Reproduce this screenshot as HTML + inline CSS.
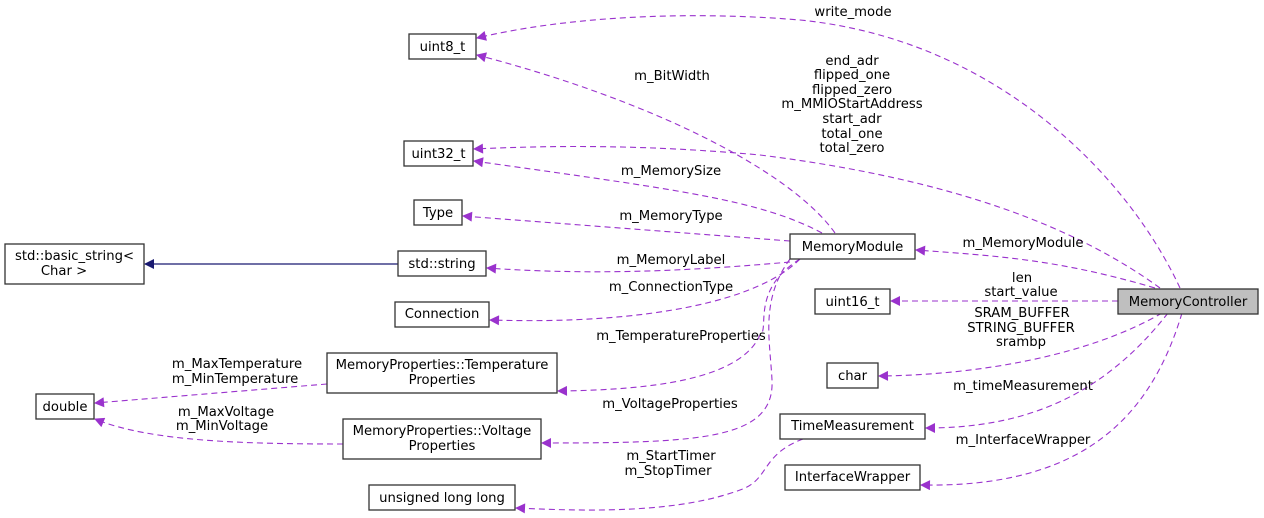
<!DOCTYPE html>
<html><head><meta charset="utf-8"><style>
html,body{margin:0;padding:0;background:#fff;}
svg{display:block;}
text{font-family:"DejaVu Sans","Liberation Sans",sans-serif;font-size:13.2px;fill:#000;}
.b{fill:#fff;stroke:#333;stroke-width:1.3;}
.e{fill:none;stroke:#9a32cd;stroke-width:1.1;stroke-dasharray:6,4;}
</style></head><body>
<svg width="1264" height="518" viewBox="0 0 1264 518" xmlns="http://www.w3.org/2000/svg">
<defs>
<marker id="a" viewBox="0 0 10 10" refX="9" refY="5" markerWidth="14" markerHeight="10" markerUnits="userSpaceOnUse" orient="auto"><path d="M0,0 L10,5 L0,10 z" fill="#9a32cd"/></marker>
<marker id="n" viewBox="0 0 10 10" refX="9" refY="5" markerWidth="14" markerHeight="10" markerUnits="userSpaceOnUse" orient="auto"><path d="M0,0 L10,5 L0,10 z" fill="#191970"/></marker>
</defs>
<path class="e" marker-end="url(#a)" d="M1180,288 C1130,180 1000,40 800,20 C680,10 560,18 477,38"/>
<path class="e" marker-end="url(#a)" d="M835,233 C790,170 650,100 477,55"/>
<path class="e" marker-end="url(#a)" d="M1160,288 C1080,230 960,180 760,155 C650,145 560,145 474,149"/>
<path class="e" marker-end="url(#a)" d="M822,233 C760,200 680,190 474,161"/>
<path class="e" marker-end="url(#a)" d="M790,241 L463,216"/>
<path class="e" marker-end="url(#a)" d="M790,262 C700,270 600,276 487,268"/>
<path class="e" marker-end="url(#a)" d="M800,259 C760,300 650,325 490,320"/>
<path class="e" marker-end="url(#a)" d="M800,259 C750,290 770,330 760,335 C740,380 650,390 558,391"/>
<path class="e" marker-end="url(#a)" d="M790,259 C760,300 770,340 772,380 C775,440 700,443 542,443"/>
<path class="e" marker-end="url(#a)" d="M803,439 C760,455 770,480 740,490 C680,512 600,512 516,508"/>
<path class="e" marker-end="url(#a)" d="M327,384 L95,403"/>
<path class="e" marker-end="url(#a)" d="M343,444 C250,444 150,442 95,419"/>
<path d="M398,264 L145,264" fill="none" stroke="#191970" stroke-width="1.3" marker-end="url(#n)"/>
<path class="e" marker-end="url(#a)" d="M1155,288 C1060,260 1000,256 916,250"/>
<path class="e" marker-end="url(#a)" d="M1118,301 L891,301"/>
<path class="e" marker-end="url(#a)" d="M1162,313 C1090,355 980,375 879,376"/>
<path class="e" marker-end="url(#a)" d="M1168,313 C1100,400 1020,428 926,428"/>
<path class="e" marker-end="url(#a)" d="M1182,313 C1150,420 1080,488 921,485"/>
<rect class="b" x="409" y="34" width="67" height="25"/><text x="442.5" y="51" text-anchor="middle">uint8_t</text>
<rect class="b" x="404" y="141" width="69" height="25"/><text x="438.5" y="158" text-anchor="middle">uint32_t</text>
<rect class="b" x="414" y="200" width="48" height="25"/><text x="438" y="217" text-anchor="middle">Type</text>
<rect class="b" x="5" y="244" width="139" height="40"/><text x="74.5" y="260" text-anchor="middle">std::basic_string&lt;</text><text x="64" y="275" text-anchor="middle">Char &gt;</text>
<rect class="b" x="398" y="251" width="88" height="25"/><text x="442" y="268" text-anchor="middle">std::string</text>
<rect class="b" x="395" y="302" width="94" height="25"/><text x="442" y="318" text-anchor="middle">Connection</text>
<rect class="b" x="327" y="353" width="230" height="40"/><text x="442" y="369" text-anchor="middle">MemoryProperties::Temperature</text><text x="442" y="384" text-anchor="middle">Properties</text>
<rect class="b" x="36" y="394" width="58" height="25"/><text x="65" y="411" text-anchor="middle">double</text>
<rect class="b" x="343" y="419" width="198" height="40"/><text x="442" y="435" text-anchor="middle">MemoryProperties::Voltage</text><text x="442" y="450" text-anchor="middle">Properties</text>
<rect class="b" x="369" y="485" width="146" height="25"/><text x="442" y="502" text-anchor="middle">unsigned long long</text>
<rect class="b" x="790" y="234" width="125" height="25"/><text x="852.5" y="251" text-anchor="middle">MemoryModule</text>
<rect class="b" x="815" y="289" width="75" height="25"/><text x="852.5" y="306" text-anchor="middle">uint16_t</text>
<rect x="1118" y="289" width="140" height="25" fill="#bfbfbf" stroke="#333" stroke-width="1.3"/><text x="1188" y="306" text-anchor="middle">MemoryController</text>
<rect class="b" x="827" y="363" width="51" height="25"/><text x="852.5" y="380" text-anchor="middle">char</text>
<rect class="b" x="780" y="414" width="145" height="25"/><text x="852.5" y="430" text-anchor="middle">TimeMeasurement</text>
<rect class="b" x="785" y="465" width="135" height="25"/><text x="852.5" y="481" text-anchor="middle">InterfaceWrapper</text>
<g text-anchor="middle">
<text x="853" y="16">write_mode</text>
<text x="672" y="80">m_BitWidth</text>
<text x="852" y="65">end_adr</text>
<text x="852" y="79">flipped_one</text>
<text x="852" y="94">flipped_zero</text>
<text x="852" y="108">m_MMIOStartAddress</text>
<text x="852" y="123">start_adr</text>
<text x="852" y="138">total_one</text>
<text x="852" y="152">total_zero</text>
<text x="671" y="175">m_MemorySize</text>
<text x="671" y="220">m_MemoryType</text>
<text x="671" y="264">m_MemoryLabel</text>
<text x="671" y="291">m_ConnectionType</text>
<text x="681" y="340">m_TemperatureProperties</text>
<text x="670" y="408">m_VoltageProperties</text>
<text x="671" y="460">m_StartTimer</text>
<text x="668" y="475">m_StopTimer</text>
<text x="237" y="368">m_MaxTemperature</text>
<text x="235" y="383">m_MinTemperature</text>
<text x="226" y="416">m_MaxVoltage</text>
<text x="222" y="430">m_MinVoltage</text>
<text x="1023" y="247">m_MemoryModule</text>
<text x="1022" y="282">len</text>
<text x="1021" y="296">start_value</text>
<text x="1022" y="317">SRAM_BUFFER</text>
<text x="1021" y="332">STRING_BUFFER</text>
<text x="1021" y="346">srambp</text>
<text x="1023" y="390">m_timeMeasurement</text>
<text x="1023" y="444">m_InterfaceWrapper</text>
</g>
</svg>
</body></html>
